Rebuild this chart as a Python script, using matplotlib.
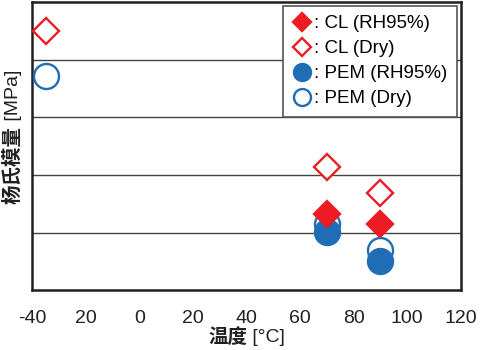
import matplotlib
matplotlib.use("Agg")
import matplotlib.pyplot as plt

plt.rcParams['font.family'] = ['Liberation Sans', 'Noto Sans CJK SC', 'DejaVu Sans']

temps_cl_rh = [70, 90]
cl_rh = [1.32, 1.15]
temps_cl_dry = [-35, 70, 90]
cl_dry = [4.50, 2.14, 1.68]
temps_pem_rh = [70, 90]
pem_rh = [1.01, 0.50]
temps_pem_dry = [-35, 70, 90]
pem_dry = [3.72, 1.15, 0.69]

xticks = [-40, -20, 0, 20, 40, 60, 80, 100, 120]
xtick_labels = ['-40', '20', '0', '20', '40', '60', '80', '100', '120']

red = '#ED1C24'
blue = '#1F6DB5'
dark = '#231F20'

fig = plt.figure(figsize=(4.8, 3.5), dpi=100)
ax = fig.add_axes([0.067, 0.171, 0.893, 0.823])

ax.set_xlim(-40, 120)
ax.set_ylim(0, 5)
for y in [1, 2, 3, 4]:
    ax.axhline(y, color='#444444', lw=1.0, zorder=1)

ms_c = 18
ms_d = 13.5
ax.plot(temps_pem_dry, pem_dry, 'o', ms=ms_c, mfc='white', mec=blue, mew=1.7, ls='none', zorder=3, label=': PEM (Dry)')
ax.plot(temps_pem_rh, pem_rh, 'o', ms=ms_c, mfc=blue, mec=blue, mew=1.7, ls='none', zorder=4, label=': PEM (RH95%)')
ax.plot(temps_cl_dry, cl_dry, 'D', ms=ms_d, mfc='white', mec=red, mew=1.7, ls='none', zorder=5, label=': CL (Dry)')
ax.plot(temps_cl_rh, cl_rh, 'D', ms=ms_d, mfc=red, mec=red, mew=1.7, ls='none', zorder=6, label=': CL (RH95%)')

handles, labels = ax.get_legend_handles_labels()
order = [3, 2, 1, 0]
leg = ax.legend([handles[i] for i in order], [labels[i] for i in order],
                loc='upper right', fontsize=13.5, frameon=True, fancybox=False,
                edgecolor='#555555', framealpha=1, handlelength=1.0,
                handletextpad=0.15, labelspacing=0.42, borderpad=0.5,
                borderaxespad=0.2, markerscale=0.68)
leg.get_frame().set_linewidth(1.2)
leg.set_zorder(10)

ax.set_xticks(xticks)
ax.set_xticklabels(xtick_labels, fontsize=14, color=dark)
ax.set_yticks([])
ax.tick_params(axis='x', length=0, pad=14)
for s in ax.spines.values():
    s.set_color(dark)
    s.set_linewidth(1.8)

cjk = ['Noto Sans CJK SC', 'DejaVu Sans']
# x label: bold CJK part + regular unit part
fig.text(247 / 480, 1 - 337 / 350, '温度', fontsize=14, fontweight='bold', family=cjk,
         color=dark, ha='right', va='center')
fig.text(247 / 480, 1 - 337 / 350, ' [°C]', fontsize=14, family=['Liberation Sans'],
         color=dark, ha='left', va='center')
# y label: bold CJK part + regular unit part
fig.text(13 / 480, 1 - 126 / 350, '杨氏模量', fontsize=14, fontweight='bold', family=cjk,
         color=dark, ha='center', va='top', rotation=90)
fig.text(13 / 480, 1 - 126 / 350, ' [MPa]', fontsize=14, family=['Liberation Sans'],
         color=dark, ha='center', va='bottom', rotation=90)

fig.savefig('out.png', dpi=100)
